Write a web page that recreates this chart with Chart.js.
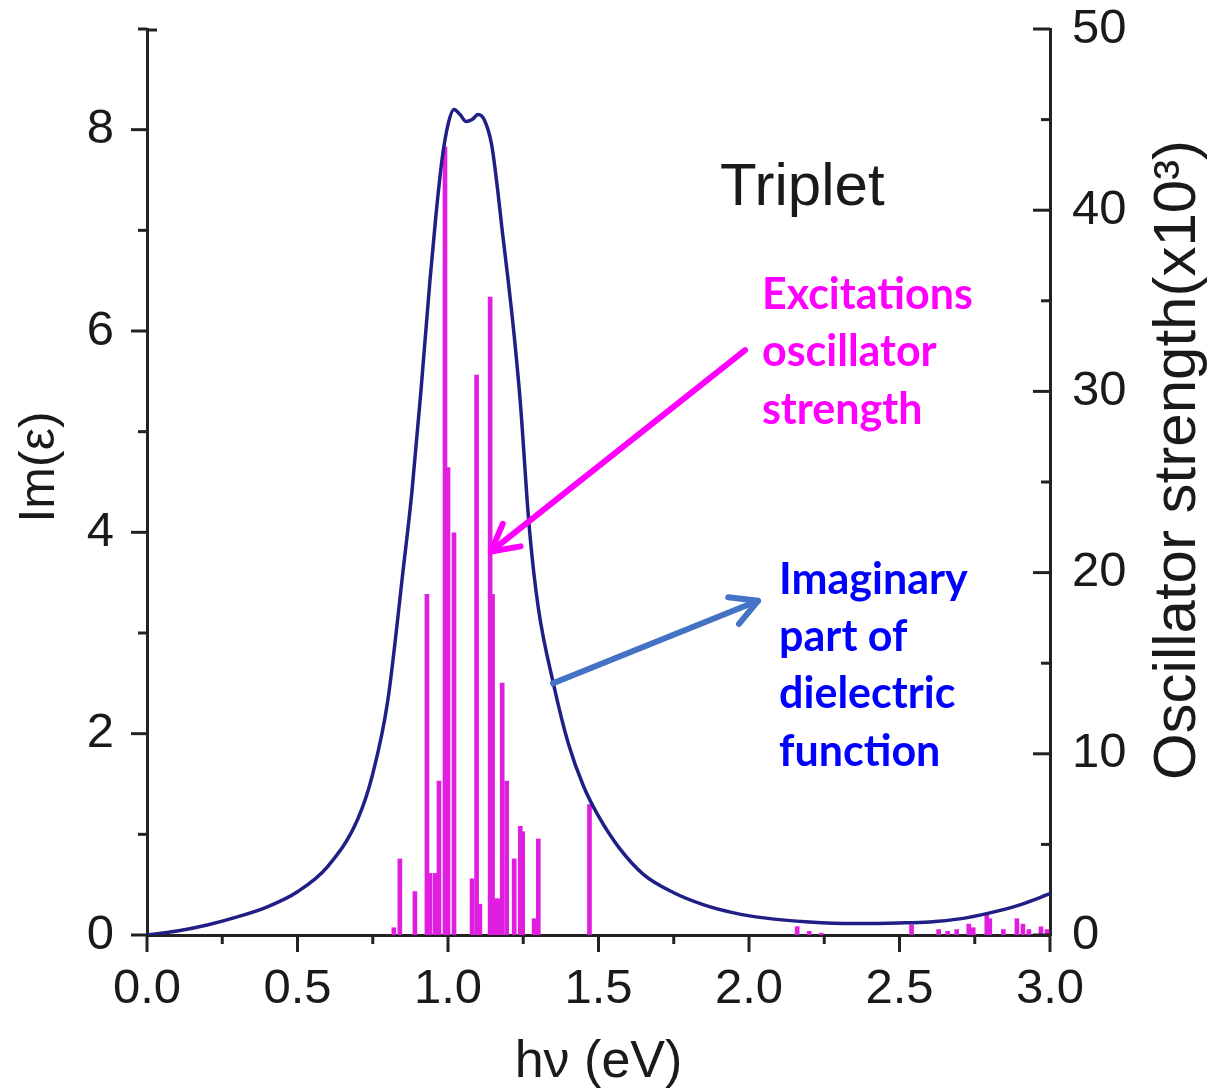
<!DOCTYPE html>
<html>
<head>
<meta charset="utf-8">
<script src="https://cdn.jsdelivr.net/npm/chart.js@4.4.1/dist/chart.umd.min.js"></script>
<style>
  html, body { margin: 0; padding: 0; background: #fff; }
  #wrap { width: 1209px; height: 1088px; }
</style>
</head>
<body>
<div id="wrap"><canvas id="myChart" width="1209" height="1088"></canvas></div>
<script>
// Im(eps) curve (left axis)
var energy = [0, 0.1, 0.2, 0.3, 0.4, 0.5, 0.6, 0.7, 0.75, 0.8, 0.85, 0.88, 0.91, 0.94, 0.96, 0.98,
  1.0, 1.02, 1.04, 1.06, 1.08, 1.10, 1.12, 1.145, 1.165, 1.18, 1.2, 1.22, 1.24, 1.27, 1.3, 1.35,
  1.4, 1.45, 1.5, 1.57, 1.65, 1.75, 1.85, 1.95, 2.05, 2.2, 2.35, 2.5, 2.6, 2.7, 2.8, 2.9, 3.0];
var imEps = [0, 0.04, 0.10, 0.18, 0.28, 0.43, 0.68, 1.15, 1.6, 2.33, 3.6, 4.4, 5.4, 6.5, 7.15, 7.7,
  8.05, 8.2, 8.15, 8.08, 8.1, 8.15, 8.1, 7.85, 7.4, 7.0, 6.5, 5.95, 5.3, 4.05, 3.25, 2.5,
  1.9, 1.48, 1.18, 0.86, 0.6, 0.42, 0.3, 0.22, 0.17, 0.13, 0.115, 0.12, 0.13, 0.16, 0.22, 0.3, 0.41];

// excitation sticks, oscillator strength x10^3 (right axis)
var stickEnergy = [0.82, 0.84, 0.89, 0.93, 0.94, 0.957, 0.97, 0.99, 1.0, 1.02, 1.08, 1.095, 1.106,
  1.14, 1.148, 1.156, 1.165, 1.18, 1.195, 1.22, 1.24, 1.248, 1.286, 1.30, 1.47,
  2.16, 2.20, 2.24, 2.54, 2.63, 2.66, 2.69, 2.73, 2.745, 2.79, 2.80, 2.845, 2.89, 2.91, 2.93, 2.97, 2.99];
var stickStrength = [0.4, 4.2, 2.4, 18.8, 3.4, 3.4, 8.5, 43.5, 25.8, 22.2, 3.1, 30.9, 1.7,
  35.2, 18.8, 2.0, 2.0, 13.9, 8.5, 4.2, 6.0, 5.7, 0.9, 5.3, 7.2,
  0.46, 0.2, 0.1, 0.55, 0.3, 0.2, 0.3, 0.6, 0.4, 1.1, 0.9, 0.3, 0.9, 0.6, 0.3, 0.45, 0.3];

var xTicks = [0, 0.5, 1.0, 1.5, 2.0, 2.5, 3.0];
var leftTicks = [0, 2, 4, 6, 8];
var rightTicks = [0, 10, 20, 30, 40, 50];

var tickFont = { family: "'Liberation Sans', Arial, sans-serif", size: 49 };
var axisColor = "#222";

function seg(ctx, x1, y1, x2, y2) {
  ctx.beginPath();
  ctx.moveTo(x1, y1);
  ctx.lineTo(x2, y2);
  ctx.stroke();
}

function arrow(ctx, x1, y1, x2, y2, color, w, head) {
  var ang = Math.atan2(y2 - y1, x2 - x1);
  ctx.strokeStyle = color;
  ctx.lineWidth = w;
  ctx.lineCap = "round";
  ctx.lineJoin = "round";
  seg(ctx, x1, y1, x2, y2);
  ctx.beginPath();
  ctx.moveTo(x2 - head * Math.cos(ang - 0.5), y2 - head * Math.sin(ang - 0.5));
  ctx.lineTo(x2, y2);
  ctx.lineTo(x2 - head * Math.cos(ang + 0.5), y2 - head * Math.sin(ang + 0.5));
  ctx.stroke();
}

function noPad(s) {
  s.paddingTop = 0;
  s.paddingBottom = 0;
  s.paddingLeft = 0;
  s.paddingRight = 0;
}

var decor = {
  id: "decor",
  afterDraw: function(chart) {
    var ctx = chart.ctx, a = chart.chartArea;
    var sx = chart.scales.x, sy = chart.scales.y, s2 = chart.scales.y2;
    ctx.save();
    ctx.strokeStyle = axisColor;
    ctx.lineWidth = 3;
    // bottom ticks (outward)
    xTicks.forEach(function(v) {
      var px = sx.getPixelForValue(v);
      seg(ctx, px, a.bottom, px, a.bottom + 17);
      if (v < 3) {
        var pm = sx.getPixelForValue(v + 0.25);
        seg(ctx, pm, a.bottom, pm, a.bottom + 9);
      }
    });
    // left ticks (outward)
    leftTicks.forEach(function(v) {
      var py = sy.getPixelForValue(v);
      seg(ctx, a.left, py, a.left - 16, py);
      var pm = sy.getPixelForValue(v + 1);
      seg(ctx, a.left, pm, a.left - 9, pm);
    });
    seg(ctx, a.left, a.top + 1, a.left + 10, a.top + 1);
    // right ticks (inward)
    rightTicks.forEach(function(v) {
      var py = s2.getPixelForValue(v);
      seg(ctx, a.right, py, a.right - 17, py);
      if (v < 50) {
        var pm = s2.getPixelForValue(v + 5);
        seg(ctx, a.right, pm, a.right - 9, pm);
      }
    });

    // axis titles
    ctx.fillStyle = "#1a1a1a";
    ctx.textAlign = "center";
    ctx.textBaseline = "middle";
    ctx.font = "52px 'Liberation Sans', Arial, sans-serif";
    ctx.fillText("h\u03bd (eV)", (a.left + a.right) / 2, 1063);

    ctx.save();
    ctx.translate(40, 467);
    ctx.rotate(-Math.PI / 2);
    ctx.font = "50px 'Liberation Sans', Arial, sans-serif";
    ctx.fillText("Im(\u03b5)", 0, 0);
    ctx.restore();

    ctx.save();
    ctx.translate(1178, 460);
    ctx.rotate(-Math.PI / 2);
    ctx.font = "60px 'Liberation Sans', Arial, sans-serif";
    ctx.fillText("Oscillator strength(x10\u00b3)", 0, 0);
    ctx.restore();

    // labels inside plot
    ctx.textAlign = "left";
    ctx.textBaseline = "alphabetic";
    ctx.font = "60px 'Liberation Sans', Arial, sans-serif";
    ctx.fillText("Triplet", sx.getPixelForValue(1.904), sy.getPixelForValue(7.25));

    ctx.font = "bold 43px Lato, 'Open Sans', sans-serif";
    ctx.fillStyle = "#ff00ff";
    var mx = sx.getPixelForValue(2.043), my = sy.getPixelForValue(6.22);
    ["Excitations", "oscillator", "strength"].forEach(function(t, i) {
      ctx.fillText(t, mx, my + i * 57.5);
    });
    ctx.fillStyle = "#0000ff";
    var bx = sx.getPixelForValue(2.100), by = sy.getPixelForValue(3.39);
    ["Imaginary", "part of", "dielectric", "function"].forEach(function(t, i) {
      ctx.fillText(t, bx, by + i * 57.3);
    });

    arrow(ctx, sx.getPixelForValue(1.987), sy.getPixelForValue(5.81),
      sx.getPixelForValue(1.143), sy.getPixelForValue(3.81), "#ff00ff", 6, 30);
    arrow(ctx, sx.getPixelForValue(1.349), sy.getPixelForValue(2.50),
      sx.getPixelForValue(2.030), sy.getPixelForValue(3.32), "#4472c4", 6, 30);
    ctx.restore();
  }
};

var curvePoints = energy.map(function(e, i) { return { x: e, y: imEps[i] }; });
var stickPoints = stickEnergy.map(function(e, i) { return { x: e, y: stickStrength[i] }; });

new Chart("myChart", {
  type: "bar",
  data: {
    datasets: [
      {
        type: "line",
        data: curvePoints,
        yAxisID: "y",
        borderColor: "#1f1f86",
        borderWidth: 3.5,
        pointRadius: 0,
        cubicInterpolationMode: "monotone",
        fill: false,
        order: 0
      },
      {
        type: "bar",
        data: stickPoints,
        yAxisID: "y2",
        backgroundColor: "#e01ee0",
        barThickness: 4,
        order: 1
      }
    ]
  },
  options: {
    responsive: false,
    animation: false,
    layout: { padding: { top: 29, left: 0, right: 0, bottom: 0 } },
    plugins: { legend: { display: false }, tooltip: { enabled: false } },
    scales: {
      x: {
        type: "linear", min: 0, max: 3, offset: false,
        afterFit: function(s) { s.height = 153; noPad(s); },
        grid: { display: false, drawTicks: false },
        border: { color: axisColor, width: 3 },
        ticks: { stepSize: 0.5, padding: 25, font: tickFont, color: "#1a1a1a",
          callback: function(v) { return v.toFixed(1); } }
      },
      y: {
        position: "left", min: 0, max: 9,
        afterFit: function(s) { s.width = 147; noPad(s); },
        grid: { display: false, drawTicks: false },
        border: { color: axisColor, width: 3 },
        ticks: { stepSize: 1, padding: 33, font: tickFont, color: "#1a1a1a",
          callback: function(v) { return v % 2 === 0 ? v : ""; } }
      },
      y2: {
        position: "right", min: 0, max: 50,
        afterFit: function(s) { s.width = 159; noPad(s); },
        grid: { display: false, drawTicks: false },
        border: { color: axisColor, width: 3 },
        ticks: { stepSize: 10, padding: 22, font: tickFont, color: "#1a1a1a" }
      }
    }
  },
  plugins: [decor]
});
</script>
</body>
</html>
